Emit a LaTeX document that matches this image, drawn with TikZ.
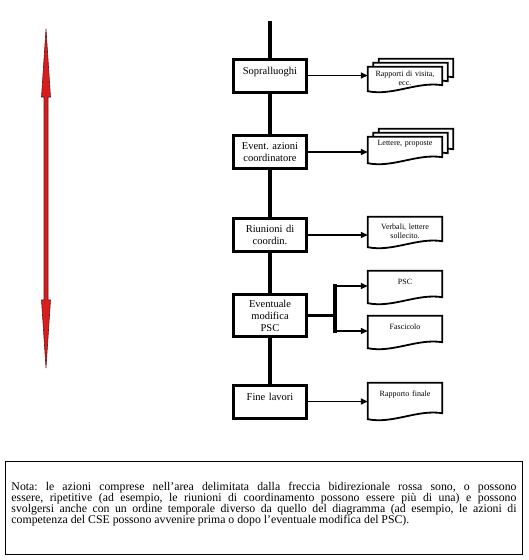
\documentclass[tikz,border=0pt]{standalone}
\usepackage{fontspec}
\setmainfont{Liberation Serif}
\frenchspacing
\usetikzlibrary{arrows.meta,calc,positioning,backgrounds}
\definecolor{arrowred}{RGB}{214,30,30}
\definecolor{arrowedge}{RGB}{110,20,20}
\tikzset{
  spine/.style={line width=4pt},
  stage/.style={draw, line width=3pt, minimum width=73pt, minimum height=33pt,
    text width=70pt, align=center, inner sep=0pt, font=\fontsize{10.5}{12}\selectfont},
  doc/.style={minimum width=74pt, minimum height=28pt, text width=72pt,
    align=center, inner sep=0pt, font=\fontsize{8}{9}\selectfont},
  docline/.style={line width=1.8pt, fill=white},
  flow/.style={-{Triangle[length=7pt,width=6pt]}, line width=1.4pt},
  branch/.style={line width=3.5pt, line cap=rect},
  redarrow/.style={fill=arrowred, draw=arrowedge, line width=0.6pt, line join=miter},
  note/.style={draw, line width=1pt, minimum width=517pt, minimum height=93pt,
    text width=505pt, align=justify, inner sep=0pt, font=\fontsize{11.8}{11}\selectfont},
}
% document outline with wavy bottom, optional offset
\newcommand{\docframe}[2][0,0]{%
  \draw[docline] ($(#2.north west)+(#1)$) -- ($(#2.north east)+(#1)$)
    -- ($(#2.south east)+(#1)+(0,-4)$)
    .. controls ($(#2.south east)+(#1)+(-25,-8)$) and ($(#2.south west)+(#1)+(25,7)$)
    .. ($(#2.south west)+(#1)+(0,2)$) -- cycle;}

\begin{document}
\begin{tikzpicture}[x=1pt, y=-1pt]
  \useasboundingbox (0,0) rectangle (529,560);

  % Red double arrow
  \coordinate (rtop) at (46,29);
  \coordinate (rbot) at (46,368);
  \filldraw[redarrow] (rtop) -- ($(rtop)+(4.5,68)$) -- ($(rtop)+(2,68)$)
    -- ($(rbot)+(2,-68)$) -- ($(rbot)+(4.5,-68)$) -- (rbot)
    -- ($(rbot)+(-4.5,-68)$) -- ($(rbot)+(-2,-68)$)
    -- ($(rtop)+(-2,68)$) -- ($(rtop)+(-4.5,68)$) -- cycle;

  % Stages
  \node[stage, text depth=10pt] (sop) at (270,75.5) {Sopralluoghi};
  \node[stage] (evc) at (270,152) {Event. azioni\\coordinatore};
  \node[stage] (riu) at (270,235) {Riunioni di\\coordin.};
  \node[stage, minimum height=42pt] (mod) at (270,315.5) {Eventuale\\modifica\\PSC};
  \node[stage, text depth=10pt] (fin) at (270,401.5) {Fine lavori};

  % Spine
  \coordinate (stop) at (270,21);
  \draw[spine] (stop) -- (sop.north);
  \foreach \a/\b in {sop/evc, evc/riu, riu/mod, mod/fin}
    \draw[spine] (\a.south) -- (\b.north);

  % Documents
  \node[doc, minimum height=22pt] (rap) at (405,78) {Rapporti di visita,\\ecc.};
  \node[doc, minimum height=24pt, text depth=12pt] (let) at (405,149) {Lettere, proposte};
  \node[doc] (ver) at (405,231) {Verbali, lettere\\sollecito.};
  \node[doc, minimum height=30pt, text depth=8pt] (psc) at (405,286) {PSC};
  \node[doc, minimum height=30pt, text depth=8pt] (fas) at (405,331) {Fascicolo};
  \node[doc, minimum height=34pt, text depth=12pt] (rfi) at (405,400) {Rapporto finale};

  \begin{scope}[on background layer]
    \docframe[11,-8]{rap} \docframe[5.5,-4]{rap} \docframe{rap}
    \docframe[11,-8]{let} \docframe[5.5,-4]{let} \docframe{let}
    \foreach \dn in {ver, psc, fas, rfi} {\docframe{\dn}}
  \end{scope}

  % Connectors
  \draw[flow] (sop.east) -- (sop.east -| rap.west);
  \draw[flow] (evc.east) -- (evc.east -| let.west);
  \draw[flow] (riu.east) -- (riu.east -| ver.west);
  \draw[flow] (fin.east) -- (fin.east -| rfi.west);
  \draw[branch] (mod.east) -- ++(27,0) coordinate (fork);
  \draw[branch] (fork |- psc.west) -- (fork |- fas.west);
  \draw[flow] (fork |- psc.west) -- (psc.west);
  \draw[flow] (fork |- fas.west) -- (fas.west);

  % Note
  \node[note, text depth=43pt] (nota) at (264,508) {Nota: le azioni comprese nell’area delimitata dalla freccia bidirezionale rossa sono, o possono\linebreak essere, ripetitive (ad esempio, le riunioni di coordinamento possono essere più di una) e possono\linebreak svolgersi anche con un ordine temporale diverso da quello del diagramma (ad esempio, le azioni di\linebreak competenza del CSE possono avvenire prima o dopo l’eventuale modifica del PSC).};
\end{tikzpicture}
\end{document}
